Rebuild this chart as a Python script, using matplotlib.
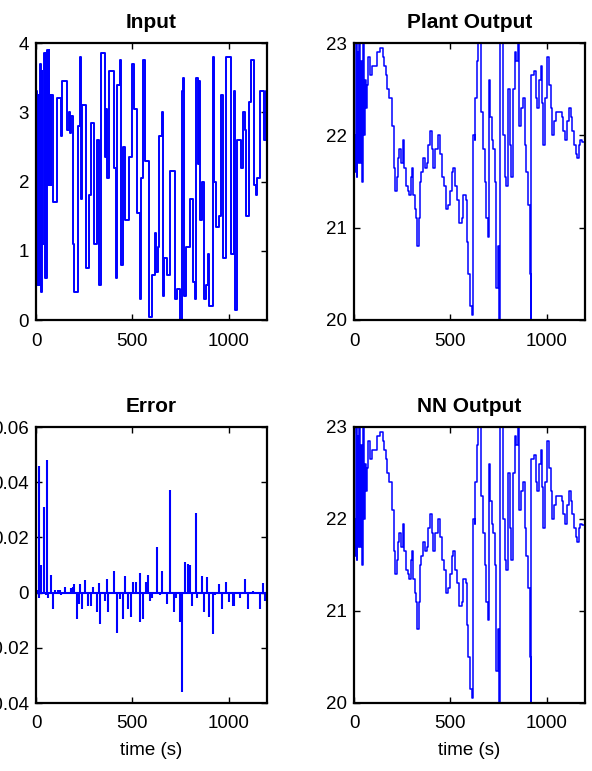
import matplotlib
matplotlib.use('Agg')
import matplotlib.pyplot as plt
import numpy as np

plt.rcParams['font.family'] = ['Liberation Sans', 'DejaVu Sans']

# ---- data ----
input_t = [0, 5, 10, 14, 22, 26, 29, 32, 43, 47, 50, 53, 57, 62, 65, 69, 74, 78, 80, 86,
           109, 129, 133, 159, 172, 178, 184, 190, 198, 219, 228, 233, 241, 259, 276, 284,
           302, 319, 328, 336, 357, 362, 371, 379, 405, 414, 422, 436, 443, 453, 460, 483,
           500, 509, 526, 540, 543, 557, 564, 586, 603, 616, 622, 633, 640, 655, 660, 664,
           681, 698, 724, 733, 750, 759, 763, 767, 781, 798, 816, 824, 833, 840, 845, 853,
           862, 874, 883, 891, 900, 919, 926, 936, 952, 960, 969, 986, 1012, 1026, 1034,
           1043, 1064, 1074, 1086, 1090, 1107, 1116, 1134, 1143, 1147, 1164, 1184, 1193, 1200]
input_v = [3.3, 0.5, 3.25, 0.5, 3.7, 0.4, 3.6, 1.1, 3.85, 0.6, 3.85, 0.6, 3.9, 1.95, 3.9, 1.95,
           3.25, 1.95, 3.25, 1.7,
           3.2, 2.65, 3.45, 2.75, 3.0, 2.7, 2.95, 1.1, 0.4, 2.8, 3.8, 1.75, 3.1, 0.75, 1.8, 2.85,
           1.1, 2.6, 0.5, 3.85, 2.35, 3.05, 2.05, 3.6, 2.2, 0.6, 3.4, 3.75, 0.8, 2.5, 1.45, 2.35,
           3.7, 3.05, 1.55, 0.3, 2.05, 3.75, 2.3, 0.05, 0.65, 1.25, 0.7, 1.05, 2.65, 3.0, 0.35, 0.9,
           0.65, 2.15, 0.3, 0.45, 0.0, 3.3, 3.5, 0.35, 1.05, 1.75, 0.55, 0.3, 3.5, 2.25, 3.45, 1.45,
           2.0, 0.3, 0.5, 0.95, 0.2, 3.8, 2.0, 1.35, 1.5, 3.25, 0.9, 3.8, 0.95, 3.3, 0.15,
           2.6, 2.2, 3.0, 2.75, 1.5, 3.15, 3.75, 1.95, 1.8, 2.05, 3.3, 2.6, 3.3, 3.3]

plant_t = [0, 5, 10, 14, 18, 23, 28, 33, 38, 43, 47, 52, 56, 60, 66, 75, 83, 95, 118, 135,
           149, 157, 164, 173, 182, 199, 209, 215, 221, 227, 236, 243, 253, 257, 262, 269,
           279, 285, 294, 301, 308, 315, 322, 329, 336, 343, 349, 360, 370, 377, 386, 394,
           403, 412, 420, 438, 446, 457, 467, 478, 490, 498, 507, 516, 526, 536, 543, 559,
           567, 581, 588, 593, 602, 611, 619, 626, 631, 637, 645, 654, 662, 671, 680, 688,
           694, 701, 708, 715, 723, 734, 740, 747, 754, 761, 772, 782, 789, 798, 810, 818,
           827, 836, 844, 853, 858, 870, 879, 887, 896, 905, 913, 919, 922, 934, 945, 951,
           960, 970, 979, 984, 991, 1003, 1014, 1021, 1031, 1038, 1048, 1069, 1078, 1087,
           1097, 1108, 1118, 1125, 1135, 1142, 1152, 1159, 1170, 1176, 1187, 1200]
plant_v = [22.0, 21.6, 23.2, 21.55, 22.9, 21.7, 23.1, 21.7, 22.8, 21.5, 23.2, 22.0, 22.6, 22.3,
           22.55, 22.85, 22.65, 22.75, 22.9, 22.95,
           22.85, 22.75, 22.65, 22.5, 22.4, 22.1, 21.65, 21.4, 21.55, 21.75, 21.85, 21.7, 21.9,
           21.95, 21.65, 21.45, 21.4, 21.35, 21.55, 21.65, 21.35, 21.2, 21.1, 20.8, 21.1, 21.5,
           21.6, 21.75, 21.65, 21.7, 21.9, 22.05, 21.85, 21.65, 21.85, 22.0, 21.8, 21.55, 21.45,
           21.2, 21.25, 21.4, 21.6, 21.65, 21.45, 21.3, 21.05, 21.1, 21.35, 21.3, 20.85, 20.5,
           20.15, 20.05, 22.0, 21.95, 22.4, 22.8, 23.0, 23.1, 22.25, 21.85, 21.5, 21.1, 20.9,
           22.6, 22.2, 21.95, 21.85, 21.5, 20.35, 20.8, 19.9, 23.2, 22.0, 21.55, 21.45, 22.5,
           21.9, 21.55, 22.5, 22.9, 22.8, 23.0, 22.1, 22.3, 22.4, 21.9, 21.6, 21.25, 20.5, 19.9,
           22.65, 22.7, 22.4, 22.3, 22.6, 22.75, 22.35, 21.9, 22.4, 22.85, 22.55, 22.3, 22.0,
           22.15, 22.25, 22.25, 22.2, 22.05, 21.95, 22.15, 22.3, 22.2, 22.05, 21.9, 21.8, 21.75,
           21.9, 21.95, 21.93, 21.93]
nn_t = plant_t
nn_v = plant_v  # NN output is visually identical to the plant output

err_t = [5, 15, 18, 24, 43, 53, 59, 63, 79, 86, 100, 112, 125, 131, 152, 181, 191, 197,
         212, 222, 230, 238, 255, 272, 284, 298, 316, 326, 333, 359, 367, 376, 407, 419,
         436, 453, 462, 479, 491, 505, 519, 538, 541, 557, 569, 583, 591, 605, 626, 643,
         657, 678, 695, 717, 729, 747, 760, 774, 790, 798, 812, 829, 836, 864, 871, 890,
         897, 922, 932, 953, 967, 985, 1005, 1022, 1030, 1060, 1088, 1100, 1129, 1164,
         1178, 1191]
err_v = [0.001, 0.046, -0.002, 0.010, 0.031, -0.001, 0.048, -0.002, 0.0065, -0.006, 0.001,
         0.001, 0.001, -0.001, 0.002, 0.0015, 0.002, 0.003, -0.0095, -0.004, 0.003, -0.006,
         0.0045, -0.005, -0.005, 0.002, -0.007, 0.0035, -0.0115, -0.003, 0.005, -0.007,
         0.008, -0.0145, -0.0025, -0.0095, 0.006, -0.006, -0.009, 0.004, 0.004, 0.007,
         -0.0105, -0.0095, 0.004, 0.0065, -0.003, -0.002, 0.0165, -0.001, 0.008, -0.004,
         0.037, -0.007, -0.002, -0.0105, -0.036, 0.011, 0.0105, 0.010, -0.005, 0.029,
         -0.002, 0.006, -0.007, 0.0055, -0.009, -0.015, -0.001, 0.003, -0.006, 0.004,
         -0.0035, -0.005, -0.005, -0.002, 0.005, -0.006, 0.0005, -0.006, 0.0035, -0.003]

input_ticks = [0, 1, 2, 3, 4]
out_ticks = [20, 21, 22, 23]
err_ticks = [-0.04, -0.02, 0, 0.02, 0.04, 0.06]
x_ticks = [0, 500, 1000]

BLUE = '#0000ff'
fs = 13.5

fig = plt.figure(figsize=(5.92, 7.71), dpi=100)
ax1 = fig.add_axes([36/592, 1-320/771, 231/592, 277/771])
ax2 = fig.add_axes([354/592, 1-320/771, 231/592, 277/771])
ax3 = fig.add_axes([36/592, 1-703/771, 231/592, 276/771])
ax4 = fig.add_axes([354/592, 1-703/771, 231/592, 276/771])

ax1.step(input_t, input_v, where='post', color=BLUE, linewidth=1.4)
ax2.step(plant_t, plant_v, where='post', color=BLUE, linewidth=1.1)
ax4.step(nn_t, nn_v, where='post', color=BLUE, linewidth=1.1)
ax3.axhline(0, color=BLUE, linewidth=1.5)
ax3.vlines(err_t, 0, err_v, color=BLUE, linewidth=1.5)

ax1.set_ylim(0, 4)
ax1.set_yticks(input_ticks)
for ax in (ax2, ax4):
    ax.set_ylim(20, 23)
    ax.set_yticks(out_ticks)
ax3.set_ylim(-0.04, 0.06)
ax3.set_yticks(err_ticks)
ax3.set_yticklabels(['-0.04', '-0.02', '0', '0.02', '0.04', '0.06'])

titles = ['Input', 'Plant Output', 'Error', 'NN Output']
for ax, ttl in zip((ax1, ax2, ax3, ax4), titles):
    ax.set_xlim(0, 1200)
    ax.set_xticks(x_ticks)
    ax.set_title(ttl, fontsize=15, fontweight='bold', pad=11)
    ax.tick_params(direction='in', top=True, right=True, length=4, width=1,
                   labelsize=fs, pad=5)
    ax.tick_params(axis='x', pad=9)
    for s in ax.spines.values():
        s.set_linewidth(1.6)

ax3.set_xlabel('time (s)', fontsize=fs, labelpad=7)
ax4.set_xlabel('time (s)', fontsize=fs, labelpad=7)

fig.savefig('out.png', dpi=100)
